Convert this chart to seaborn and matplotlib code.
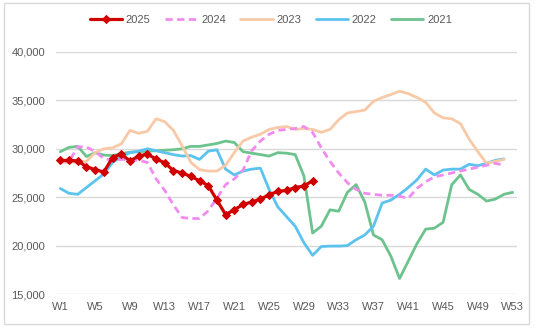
import matplotlib
matplotlib.use("Agg")
import matplotlib.pyplot as plt
from matplotlib.patches import Rectangle
import seaborn as sns
import pandas as pd

# ---- data ----
weeks = list(range(1, 54))
tick_weeks = [1, 5, 9, 13, 17, 21, 25, 29, 33, 37, 41, 45, 49, 53]
tick_labels = ["W%d" % w for w in tick_weeks]

y2025 = [28800, 28800, 28750, 28150, 27850, 27600, 29100, 29450, 28750, 29250,
         29450, 28950, 28550, 27750, 27500, 27150, 26700, 26200, 24700, 23200,
         23700, 24250, 24500, 24800, 25250, 25600, 25700, 26000, 26150, 26700]

y2024 = [28700, 28700, 30200, 30200, 29700, 29000, 28800, 28900, 28900, 28800,
         28600, 26900, 25700, 24200, 22900, 22800, 22800, 23600, 24900, 26300,
         26900, 27800, 29800, 30800, 31500, 31900, 32000, 32100, 32300, 31700,
         30100, 28700, 27500, 26500, 25800, 25400, 25300, 25200, 25200, 25100,
         24900, 25900, 26600, 27100, 27300, 27500, 27700, 27900, 28100, 28300,
         28500, 28300]

y2023 = [28600, 28600, 28600, 28700, 29600, 30000, 30100, 30500, 31900, 31600,
         31800, 33100, 32800, 31900, 30300, 28600, 27850, 27700, 27700, 28300,
         29600, 30800, 31200, 31500, 32000, 32200, 32300, 32000, 32100, 32000,
         31700, 32000, 33000, 33700, 33850, 34000, 34900, 35300, 35600, 35950,
         35700, 35300, 34800, 33700, 33200, 33100, 32600, 31000, 29700, 28500,
         28700, 28900]

y2022 = [25900, 25400, 25300, 26000, 26700, 27400, 28600, 29200, 29600, 29750,
         30000, 29800, 29600, 29400, 29250, 29300, 28900, 29750, 29900, 27900,
         27300, 27700, 27900, 28000, 25800, 24000, 23000, 22000, 20300, 19000,
         19900, 19950, 19950, 20000, 20600, 21100, 22000, 24400, 24700, 25300,
         26000, 26800, 27900, 27300, 27800, 27900, 27900, 28400, 28250, 28500,
         28800, 28950]

y2021 = [29700, 30150, 30250, 29200, 29600, 29350, 29300, 29500, 29650, 29700,
         29750, 29800, 29850, 29900, 30000, 30250, 30250, 30400, 30550, 30800,
         30650, 29700, 29550, 29400, 29250, 29600, 29550, 29400, 27200, 21300,
         22000, 23700, 23550, 25500, 26300, 24500, 21100, 20600, 18900, 16600,
         18400, 20200, 21700, 21800, 22400, 26300, 27300, 25800, 25300, 24600,
         24800, 25300, 25500]

series = [
    ("2021", y2021, "#6DC38E"),
    ("2022", y2022, "#5BC3EE"),
    ("2023", y2023, "#F7C9A6"),
    ("2024", y2024, "#F28BEF"),
    ("2025", y2025, "#D00000"),
]

sns.set_theme(style="white")
plt.rcParams["font.family"] = ["Liberation Sans", "DejaVu Sans"]

fig = plt.figure(figsize=(5.39, 3.29), dpi=100)
ax = fig.add_axes([56 / 539, 1 - 294 / 329, (517 - 56) / 539, (294 - 52) / 329])

handles = {}
for name, vals, col in series:
    df = pd.DataFrame({"week": weeks[:len(vals)], "value": vals})
    if name == "2025":
        sns.lineplot(data=df, x="week", y="value", ax=ax, color=col, linewidth=2.3,
                     marker="D", markersize=4.5, markeredgecolor=col, zorder=6)
    elif name == "2024":
        sns.lineplot(data=df, x="week", y="value", ax=ax, color=col, linewidth=2.0,
                     zorder=5)
        ax.lines[-1].set_dashes([2.6, 1.6])
        ax.lines[-1].set_dash_capstyle("butt")
    else:
        sns.lineplot(data=df, x="week", y="value", ax=ax, color=col, linewidth=2.0,
                     zorder=3)
    handles[name] = ax.lines[-1]

ax.set_xlim(0.5, 53.5)
ax.set_ylim(15000, 40000)
ax.set_yticks([15000, 20000, 25000, 30000, 35000, 40000])
ax.set_yticklabels(["15,000", "20,000", "25,000", "30,000", "35,000", "40,000"])
ax.set_xticks(tick_weeks)
ax.set_xticklabels(tick_labels)
ax.set_xlabel("")
ax.set_ylabel("")
ax.grid(axis="y", color="#D9D9D9", linewidth=1.0)
ax.grid(axis="x", visible=False)
ax.set_axisbelow(True)
for s in ax.spines.values():
    s.set_visible(False)
ax.tick_params(axis="both", length=0, labelsize=8, labelcolor="#595959")
ax.tick_params(axis="y", pad=8)
ax.tick_params(axis="x", pad=6)

order = ["2025", "2024", "2023", "2022", "2021"]
fig.legend([handles[n] for n in order], order, loc="center",
           bbox_to_anchor=(271 / 539, 1 - 20 / 329), ncol=5, frameon=False,
           fontsize=8, handlelength=2.9, columnspacing=1.3, handletextpad=0.35,
           labelcolor="#595959")

fig.patches.append(Rectangle((4 / 539, 1 - 324 / 329), 525 / 539, 321 / 329,
                             transform=fig.transFigure, fill=False,
                             edgecolor="#D9D9D9", linewidth=1.0))

fig.savefig("out.png", dpi=100)
